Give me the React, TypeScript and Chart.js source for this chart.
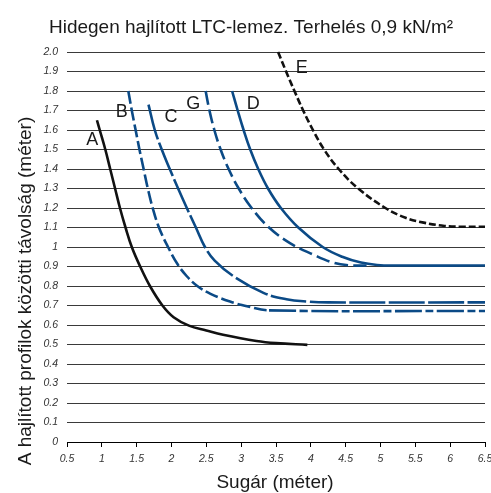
import { useEffect, useRef } from 'react';
import { Chart, registerables } from 'chart.js';

Chart.register(...registerables);

const FONT = "'Liberation Sans', Arial, sans-serif";

// ---- axis ticks ----
const xTickValues = [0.5, 1, 1.5, 2, 2.5, 3, 3.5, 4, 4.5, 5, 5.5, 6, 6.5];
const xTickLabels = ['0.5', '1', '1.5', '2', '2.5', '3', '3.5', '4', '4.5', '5', '5.5', '6', '6.5'];
const yTickValues = [0, 0.1, 0.2, 0.3, 0.4, 0.5, 0.6, 0.7, 0.8, 0.9, 1, 1.1, 1.2, 1.3, 1.4, 1.5, 1.6, 1.7, 1.8, 1.9, 2.0];
const yTickLabels = ['0', '0.1', '0.2', '0.3', '0.4', '0.5', '0.6', '0.7', '0.8', '0.9', '1', '1.1', '1.2', '1.3', '1.4', '1.5', '1.6', '1.7', '1.8', '1.9', '2.0'];

// ---- texts ----
const chartTitle = 'Hidegen hajlított LTC-lemez. Terhelés 0,9 kN/m²';
const xTitle = 'Sugár (méter)';
const yTitle = 'A hajlított profilok közötti távolság (méter)';

// ---- series (x = radius m, y = spacing m) ----
const seriesAX = [0.93, 0.97, 1.05, 1.12, 1.19, 1.26, 1.34, 1.43, 1.55, 1.69, 1.87, 2.03, 2.25, 2.5, 2.74, 3.22, 3.5, 3.95];
const seriesAY = [1.65, 1.6, 1.5, 1.4, 1.3, 1.2, 1.1, 1.0, 0.9, 0.8, 0.7, 0.64, 0.597, 0.572, 0.55, 0.518, 0.507, 0.498];

const seriesBX = [1.38, 1.43, 1.485, 1.54, 1.6, 1.66, 1.73, 1.82, 1.95, 2.09, 2.22, 2.37, 2.56, 2.84, 3.1, 3.4, 6.5];
const seriesBY = [1.8, 1.7, 1.6, 1.5, 1.4, 1.3, 1.2, 1.1, 1.0, 0.91, 0.85, 0.8, 0.76, 0.72, 0.695, 0.675, 0.672];

const seriesCX = [1.67, 1.76, 1.86, 1.975, 2.095, 2.22, 2.35, 2.48, 2.62, 2.89, 3.32, 3.65, 3.95, 4.25, 6.5];
const seriesCY = [1.73, 1.6, 1.5, 1.4, 1.3, 1.2, 1.1, 1.0, 0.93, 0.85, 0.765, 0.732, 0.72, 0.716, 0.716];

const seriesGX = [2.49, 2.545, 2.615, 2.705, 2.82, 2.965, 3.15, 3.4, 3.7, 4.04, 4.32, 4.56, 4.8];
const seriesGY = [1.8, 1.7, 1.6, 1.5, 1.4, 1.3, 1.2, 1.1, 1.02, 0.96, 0.92, 0.906, 0.905];

const seriesDX = [2.87, 2.95, 3.035, 3.13, 3.245, 3.385, 3.57, 3.82, 4.17, 4.45, 4.72, 4.95, 5.2, 6.5];
const seriesDY = [1.8, 1.7, 1.6, 1.5, 1.4, 1.3, 1.2, 1.1, 1.0, 0.95, 0.92, 0.908, 0.905, 0.905];

const seriesEX = [3.53, 3.645, 3.765, 3.89, 4.03, 4.19, 4.4, 4.68, 5.07, 5.36, 5.62, 5.92, 6.15, 6.5];
const seriesEY = [2.0, 1.9, 1.8, 1.7, 1.6, 1.5, 1.4, 1.3, 1.2, 1.15, 1.125, 1.108, 1.104, 1.104];

// curve letter labels, anchored in data units
const curveLabels = ['A', 'B', 'C', 'G', 'D', 'E'];
const curveLabelX = [0.863, 1.285, 1.993, 2.313, 3.174, 3.869];
const curveLabelY = [1.55, 1.694, 1.668, 1.733, 1.733, 1.918];

const BLUE = '#0b4a86';
const BLACK = '#111111';

const zip = (xs: number[], ys: number[]) => xs.map((x, i) => ({ x, y: ys[i] }));

const textPlugin = {
  id: 'texts',
  afterDraw(chart: any) {
    const ctx = chart.ctx as CanvasRenderingContext2D;
    const xs = chart.scales.x;
    const ys = chart.scales.y;
    ctx.save();
    ctx.fillStyle = '#1a1a1a';
    // letter labels
    ctx.font = `18px ${FONT}`;
    ctx.textAlign = 'center';
    ctx.textBaseline = 'middle';
    curveLabels.forEach((t, i) => {
      ctx.fillText(t, xs.getPixelForValue(curveLabelX[i]), ys.getPixelForValue(curveLabelY[i]));
    });
    // titles
    ctx.font = `19px ${FONT}`;
    ctx.textBaseline = 'alphabetic';
    ctx.fillText(chartTitle, 251, 33);
    ctx.fillText(xTitle, 275, 488);
    ctx.translate(31, 291);
    ctx.rotate(-Math.PI / 2);
    ctx.fillText(yTitle, 0, 0);
    ctx.restore();
  },
};

export default function App() {
  const ref = useRef<HTMLCanvasElement>(null);
  useEffect(() => {
    const tickFont = { family: FONT, size: 10.5, style: 'italic' as const };
    const chart = new Chart(ref.current!, {
      type: 'line',
      data: {
        datasets: [
          {
            label: 'A',
            data: zip(seriesAX, seriesAY),
            borderColor: BLACK,
            borderWidth: 2.6,
          },
          {
            label: 'B',
            data: zip(seriesBX, seriesBY),
            borderColor: BLUE,
            borderWidth: 2.6,
            borderDash: [13, 4],
            segment: {
              borderDash: (c: any) =>
                c.p0.parsed.x >= seriesBX[seriesBX.length - 2] - 1e-9 ? [27, 3.5, 8, 3.5] : undefined,
            },
          },
          {
            label: 'C',
            data: zip(seriesCX, seriesCY),
            borderColor: BLUE,
            borderWidth: 2.6,
            borderDash: [36, 3.5],
          },
          {
            label: 'G',
            data: zip(seriesGX, seriesGY),
            borderColor: BLUE,
            borderWidth: 2.6,
            borderDash: [14, 5],
          },
          {
            label: 'D',
            data: zip(seriesDX, seriesDY),
            borderColor: BLUE,
            borderWidth: 2.6,
          },
          {
            label: 'E',
            data: zip(seriesEX, seriesEY),
            borderColor: BLACK,
            borderWidth: 2.6,
            borderDash: [7, 3],
          },
        ],
      },
      options: {
        animation: false,
        responsive: true,
        maintainAspectRatio: false,
        layout: { padding: { top: 52, right: 6, left: 0, bottom: 0 } },
        elements: {
          point: { radius: 0, hoverRadius: 0 },
          line: { cubicInterpolationMode: 'default', tension: 0.4, fill: false, borderCapStyle: 'butt' },
        },
        datasets: { line: { clip: false } as any },
        plugins: {
          legend: { display: false },
          tooltip: { enabled: false },
          title: { display: false },
        },
        scales: {
          x: {
            type: 'linear',
            min: 0.5,
            max: 6.5,
            afterBuildTicks: (s: any) => {
              s.ticks = xTickValues.map((v) => ({ value: v }));
            },
            afterFit: (s: any) => {
              s.height = 51;
              s.paddingLeft = 0;
              s.paddingRight = 0;
            },
            ticks: {
              callback: (_v: any, i: number) => xTickLabels[i],
              font: tickFont,
              color: '#333',
              padding: 6,
              maxRotation: 0,
              autoSkip: false,
            },
            grid: { drawOnChartArea: false, drawTicks: true, tickLength: 5, color: '#000', lineWidth: 1 },
            border: { display: true, color: '#000', width: 1 },
          },
          y: {
            type: 'linear',
            min: 0,
            max: 2,
            afterBuildTicks: (s: any) => {
              s.ticks = yTickValues.map((v) => ({ value: v }));
            },
            afterFit: (s: any) => {
              s.width = 67;
              s.paddingTop = 0;
              s.paddingBottom = 0;
            },
            ticks: {
              callback: (_v: any, i: number) => yTickLabels[i],
              font: tickFont,
              color: '#333',
              padding: 9,
              autoSkip: false,
            },
            grid: { drawTicks: false, color: '#3a3a3a', lineWidth: 1 },
            border: { display: false },
          },
        },
      },
      plugins: [textPlugin],
    });
    return () => chart.destroy();
  }, []);
  return (
    <div style={{ position: 'fixed', left: 0, top: 0, width: 491, height: 493 }}>
      <canvas ref={ref} />
    </div>
  );
}
